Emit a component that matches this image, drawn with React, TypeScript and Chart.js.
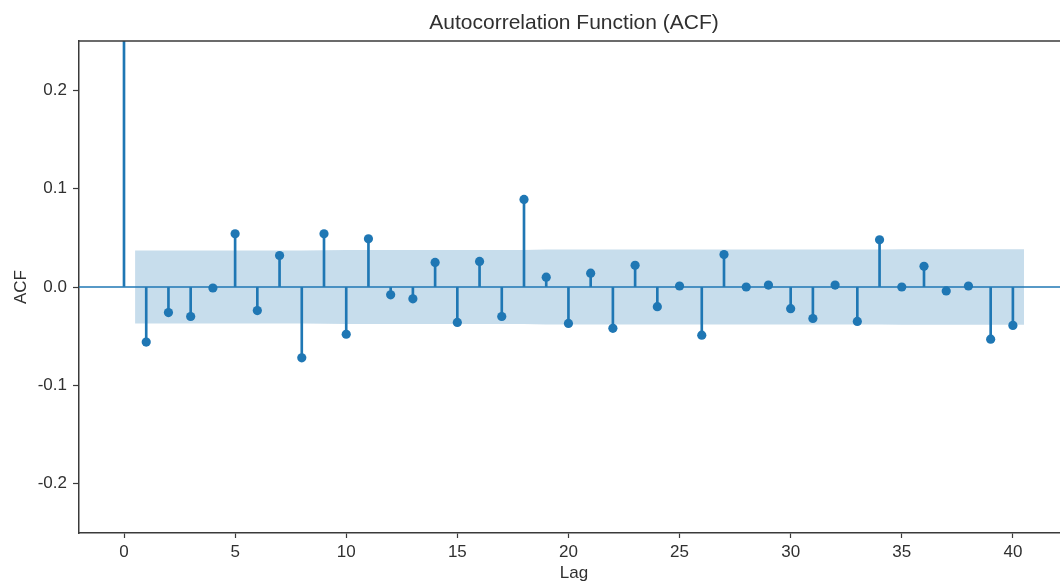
import React, { useEffect, useRef } from 'react';
import { Chart, registerables } from 'chart.js';

Chart.register(...registerables);

const TITLE = 'Autocorrelation Function (ACF)';
const X_LABEL = 'Lag';
const Y_LABEL = 'ACF';

const LAGS = [0, 1, 2, 3, 4, 5, 6, 7, 8, 9, 10, 11, 12, 13, 14, 15, 16, 17, 18, 19, 20,
  21, 22, 23, 24, 25, 26, 27, 28, 29, 30, 31, 32, 33, 34, 35, 36, 37, 38, 39, 40];

const ACF_VALUES = [1.0, -0.056, -0.026, -0.030, -0.001, 0.054, -0.024, 0.032, -0.072, 0.054, -0.048,
  0.049, -0.008, -0.012, 0.025, -0.036, 0.026, -0.030, 0.089, 0.010, -0.037,
  0.014, -0.042, 0.022, -0.020, 0.001, -0.049, 0.033, 0.000, 0.002, -0.022,
  -0.032, 0.002, -0.035, 0.048, 0.000, 0.021, -0.004, 0.001, -0.053, -0.039];

// confidence band (x positions: first and last lags widened by half a step)
const BAND_X = [0.5, 2, 3, 4, 5, 6, 7, 8, 9, 10, 11, 12, 13, 14, 15, 16, 17, 18, 19, 20,
  21, 22, 23, 24, 25, 26, 27, 28, 29, 30, 31, 32, 33, 34, 35, 36, 37, 38, 39, 40.5];
const BAND_UPPER = [0.0370, 0.0371, 0.0371, 0.0371, 0.0371, 0.0372, 0.0372, 0.0372, 0.0374, 0.0375,
  0.0375, 0.0376, 0.0377, 0.0377, 0.0377, 0.0377, 0.0377, 0.0377, 0.0380, 0.0381,
  0.0381, 0.0381, 0.0381, 0.0381, 0.0381, 0.0381, 0.0381, 0.0382, 0.0382, 0.0382,
  0.0382, 0.0382, 0.0382, 0.0382, 0.0383, 0.0383, 0.0383, 0.0383, 0.0383, 0.0383];

const X_MIN = -2.025;
const X_MAX = 42.525;
const Y_MIN = -0.25;
const Y_MAX = 0.25;
const X_TICKS = [0, 5, 10, 15, 20, 25, 30, 35, 40];
const Y_TICKS = [-0.2, -0.1, 0.0, 0.1, 0.2];

const C0 = '#1f77b4';
const TEXT = '#303030';
const AXIS = '#3a3a3a';
const FAMILY = '"Liberation Sans", Arial, sans-serif';

export default function App() {
  const ref = useRef<HTMLCanvasElement>(null);

  useEffect(() => {
    if (!ref.current) return;
    const frame = {
      id: 'frameTop',
      afterDatasetsDraw(chart: any) {
        const { ctx, chartArea } = chart;
        ctx.save();
        ctx.strokeStyle = AXIS;
        ctx.lineWidth = 1.5;
        ctx.beginPath();
        ctx.moveTo(chartArea.left, chartArea.top);
        ctx.lineTo(chartArea.right, chartArea.top);
        ctx.stroke();
        ctx.restore();
      },
    };

    const chart = new Chart(ref.current, {
      type: 'bar',
      data: {
        datasets: [
          {
            type: 'line',
            data: BAND_X.map((x, i) => ({ x, y: BAND_UPPER[i] })),
            fill: '+1',
            backgroundColor: 'rgba(31,119,180,0.25)',
            borderColor: 'transparent',
            borderWidth: 0,
            pointRadius: 0,
            order: 10,
          } as any,
          {
            type: 'line',
            data: BAND_X.map((x, i) => ({ x, y: -BAND_UPPER[i] })),
            fill: false,
            borderColor: 'transparent',
            borderWidth: 0,
            pointRadius: 0,
            order: 10,
          } as any,
          {
            type: 'bar',
            data: LAGS.map((x, i) => ({ x, y: [0, ACF_VALUES[i]] })),
            backgroundColor: C0,
            borderWidth: 0,
            barThickness: 2,
            order: 5,
          } as any,
          {
            type: 'line',
            data: [{ x: X_MIN, y: 0 }, { x: X_MAX, y: 0 }],
            borderColor: C0,
            borderWidth: 1.6,
            pointRadius: 0,
            fill: false,
            order: 4,
          } as any,
          {
            type: 'scatter',
            data: LAGS.map((x, i) => ({ x, y: ACF_VALUES[i] })),
            backgroundColor: C0,
            borderColor: C0,
            borderWidth: 0,
            pointRadius: 4.6,
            order: 1,
          } as any,
        ],
      },
      options: {
        animation: false,
        responsive: false,
        devicePixelRatio: 1,
        layout: { padding: { left: 0, top: 0, right: 11, bottom: 0 } },
        plugins: {
          legend: { display: false },
          tooltip: { enabled: false },
          title: {
            display: true,
            text: TITLE,
            fullSize: false,
            color: TEXT,
            font: { family: FAMILY, size: 21, weight: 'normal' },
            padding: { top: 11, bottom: 4.8 },
          },
        },
        scales: {
          x: {
            type: 'linear',
            min: X_MIN,
            max: X_MAX,
            offset: false,
            afterBuildTicks: (s: any) => { s.ticks = X_TICKS.map((v) => ({ value: v })); },
            afterFit: (s: any) => { s.height = 50; },
            grid: { offset: false, drawOnChartArea: false, drawTicks: true, tickLength: 5, tickColor: AXIS, tickWidth: 1.2 },
            border: { display: true, color: AXIS, width: 1.5 },
            ticks: {
              color: TEXT, font: { family: FAMILY, size: 17 }, padding: 4,
              maxRotation: 0, autoSkip: false,
              callback: (v: any) => String(v),
            },
            title: {
              display: true, text: X_LABEL, color: TEXT,
              font: { family: FAMILY, size: 17 }, padding: { top: 0, bottom: -1 },
            },
          },
          y: {
            type: 'linear',
            min: Y_MIN,
            max: Y_MAX,
            afterBuildTicks: (s: any) => { s.ticks = Y_TICKS.map((v) => ({ value: v })); },
            afterFit: (s: any) => { s.width = 79; },
            grid: { drawOnChartArea: false, drawTicks: true, tickLength: 6, tickColor: AXIS, tickWidth: 1.2 },
            border: { display: true, color: AXIS, width: 1.5 },
            ticks: {
              color: TEXT, font: { family: FAMILY, size: 17 }, padding: 6,
              callback: (v: any) => Number(v).toFixed(1),
            },
            title: {
              display: true, text: Y_LABEL, color: TEXT,
              font: { family: FAMILY, size: 17 }, padding: { top: 11, bottom: 0 },
            },
          },
        },
      } as any,
      plugins: [frame],
    });
    return () => chart.destroy();
  }, []);

  return (
    <div style={{ position: 'fixed', left: 0, top: 0, width: 1060, height: 583, overflow: 'hidden', background: '#fff' }}>
      <canvas ref={ref} width={1080} height={583} style={{ display: 'block' }} />
    </div>
  );
}
